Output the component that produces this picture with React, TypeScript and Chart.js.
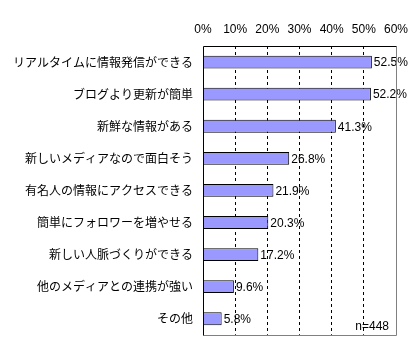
import React, { useEffect, useRef } from "react";
import { Chart, registerables } from "chart.js";

Chart.register(...registerables);

const categories = [
  "リアルタイムに情報発信ができる",
  "ブログより更新が簡単",
  "新鮮な情報がある",
  "新しいメディアなので面白そう",
  "有名人の情報にアクセスできる",
  "簡単にフォロワーを増やせる",
  "新しい人脈づくりができる",
  "他のメディアとの連携が強い",
  "その他",
];
const values = [52.5, 52.2, 41.3, 26.8, 21.9, 20.3, 17.2, 9.6, 5.8];
const xTicks = [0, 10, 20, 30, 40, 50, 60];
const sampleNote = "n=448";

const numFont = "'Liberation Sans Narrow', 'Arial Narrow', 'Liberation Sans', Arial, sans-serif";
const jpFont = "'Noto Sans CJK JP', sans-serif";

const decorPlugin = {
  id: "decor",
  afterDatasetsDraw(chart: any) {
    const ctx = chart.ctx;
    const meta = chart.getDatasetMeta(0);
    ctx.save();
    ctx.font = `12px ${numFont}`;
    ctx.fillStyle = "#000";
    ctx.textAlign = "left";
    ctx.textBaseline = "middle";
    meta.data.forEach((bar: any, i: number) => {
      ctx.fillText(values[i].toFixed(1) + "%", bar.x + 2, bar.y + 1);
    });
    ctx.restore();
  },
  afterDraw(chart: any) {
    const { ctx, chartArea } = chart;
    const l = Math.round(chartArea.left) + 0.5;
    const r = Math.round(chartArea.right) + 0.5;
    const t = Math.round(chartArea.top) + 0.5;
    const b = Math.round(chartArea.bottom) + 0.5;
    ctx.save();
    ctx.lineWidth = 1;
    ctx.strokeStyle = "#808080";
    ctx.beginPath();
    ctx.moveTo(r, t);
    ctx.lineTo(r, b);
    ctx.lineTo(l, b);
    ctx.stroke();
    ctx.strokeStyle = "#000";
    ctx.beginPath();
    ctx.moveTo(r, t);
    ctx.lineTo(l, t);
    ctx.lineTo(l, b);
    ctx.stroke();
    ctx.font = `12px ${numFont}`;
    ctx.fillStyle = "#000";
    ctx.textAlign = "right";
    ctx.textBaseline = "middle";
    ctx.fillText(sampleNote, chartArea.right - 7, chartArea.bottom - 8);
    ctx.restore();
  },
};

export default function App() {
  const ref = useRef<HTMLCanvasElement | null>(null);
  useEffect(() => {
    if (!ref.current) return;
    const chart = new Chart(ref.current, {
      type: "bar",
      data: {
        labels: categories,
        datasets: [
          {
            data: values,
            backgroundColor: "#9999FF",
            borderColor: "#000000",
            borderWidth: 1,
            barPercentage: 0.8,
            categoryPercentage: 0.5,
          },
        ],
      },
      options: {
        indexAxis: "y",
        animation: false,
        responsive: false,
        maintainAspectRatio: false,
        layout: { padding: { left: 0, top: 0, right: 17, bottom: 17 } },
        plugins: {
          legend: { display: false },
          tooltip: { enabled: false },
          title: { display: false },
        },
        scales: {
          x: {
            position: "top",
            min: 0,
            max: 60,
            afterBuildTicks: (scale: any) => {
              scale.ticks = xTicks.map((v) => ({ value: v }));
            },
            afterFit: (scale: any) => {
              scale.height = 46;
            },
            ticks: {
              padding: 9,
              color: "#000",
              font: { family: numFont, size: 12 },
              callback: (v: any) => v + "%",
              maxRotation: 0,
            },
            grid: {
              drawTicks: false,
              color: (c: any) =>
                c.tick && (c.tick.value === 0 || c.tick.value === 60) ? "rgba(0,0,0,0)" : "#000",
              lineWidth: 1,
            },
            border: { display: false, dash: [3, 3] },
          },
          y: {
            afterFit: (scale: any) => {
              scale.width = 203;
            },
            ticks: {
              padding: 10,
              color: "#000",
              font: { family: jpFont, size: 12 },
            },
            grid: { display: false, drawTicks: false },
            border: { display: false },
          },
        },
      },
      plugins: [decorPlugin],
    } as any);
    return () => chart.destroy();
  }, []);
  return (
    <div style={{ position: "fixed", left: 0, top: 0, width: 417, height: 352, background: "#fff" }}>
      <canvas ref={ref} width={417} height={352} style={{ width: 417, height: 352 }} />
    </div>
  );
}
